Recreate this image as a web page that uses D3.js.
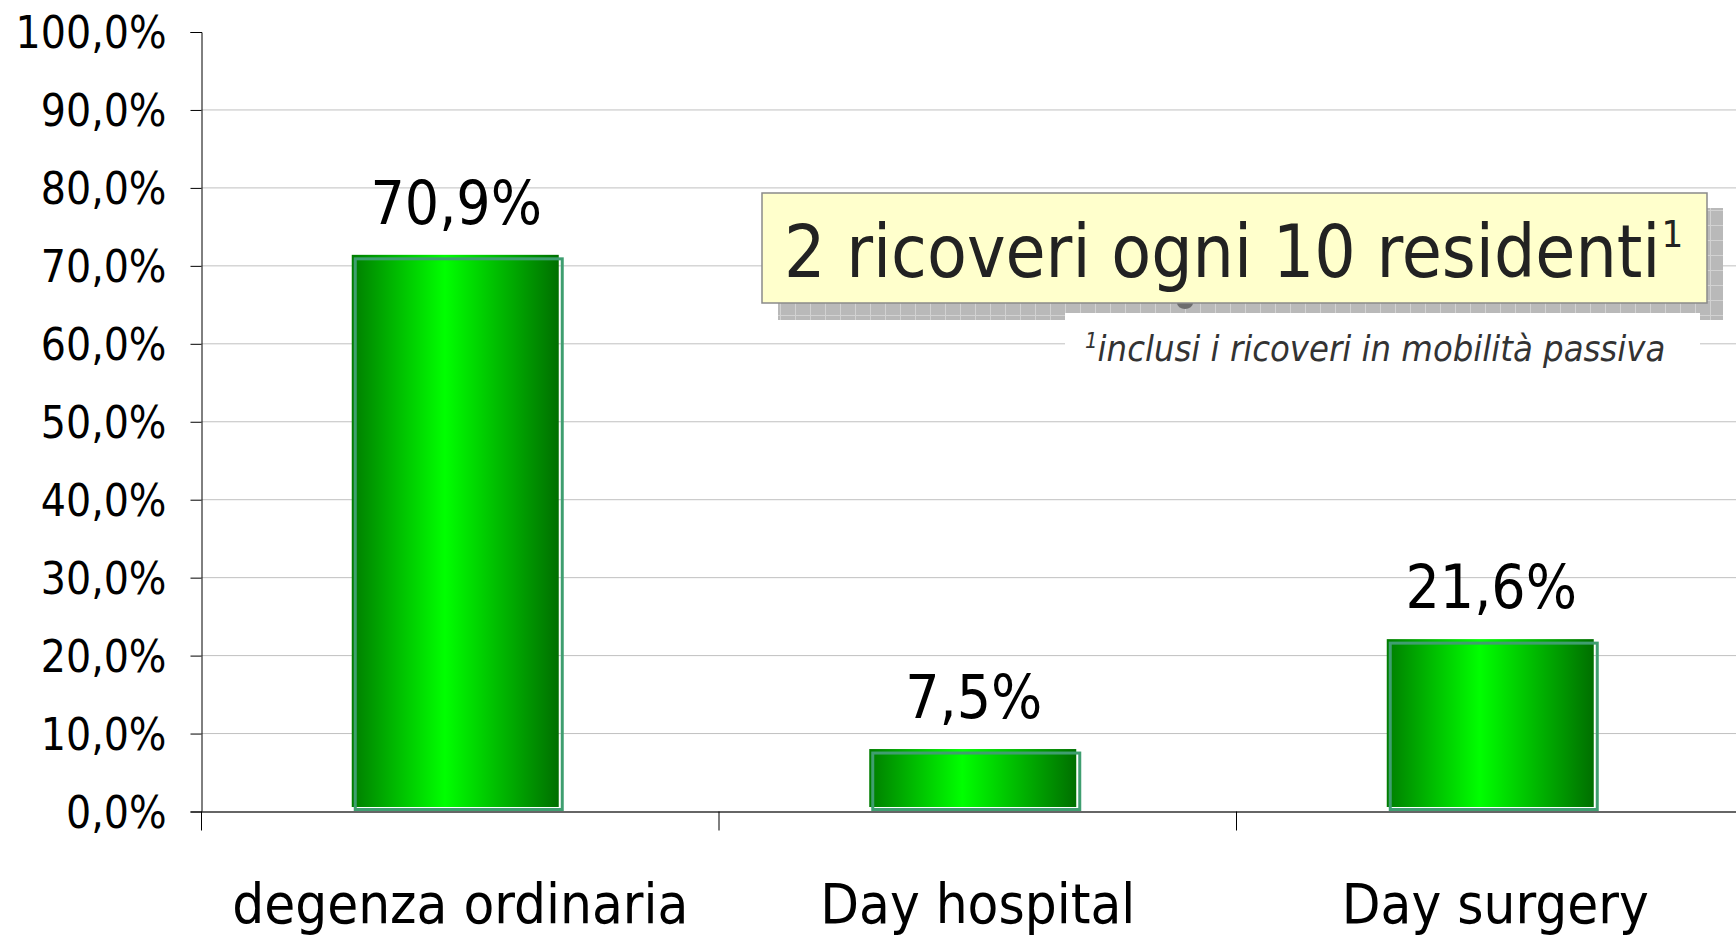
<!DOCTYPE html>
<html>
<head>
<meta charset="utf-8">
<script src="https://cdn.jsdelivr.net/npm/d3@7"></script>
<style>
  body { margin: 0; background: #fff; }
  svg { display: block; font-family: "DejaVu Sans Condensed", "DejaVu Sans", sans-serif; }
</style>
</head>
<body>
<svg id="chart" width="1736" height="935"></svg>
<script>
const categories = ["degenza ordinaria", "Day hospital", "Day surgery"];
const values = [70.9, 7.5, 21.6];
const yTicks = [0, 10, 20, 30, 40, 50, 60, 70, 80, 90, 100];
const boxText = "2 ricoveri ogni 10 residenti";
const noteText = "inclusi i ricoveri in mobilità passiva";

const svg = d3.select("#chart");
const it = d3.formatLocale({ decimal: ",", thousands: ".", grouping: [3], currency: ["€", ""] });
const pct = (v) => it.format(".1f")(v) + "%";

const plotLeft = 201.5, plotBottom = 811.5, plotTop = 32;
const x = d3.scaleBand().domain(categories).range([plotLeft, 1754]); // right end runs off the page
const y = d3.scaleLinear().domain([0, 100]).range([plotBottom, plotTop]);

// gradient for bars
const defs = svg.append("defs");
const grad = defs.append("linearGradient").attr("id", "barGrad").attr("x1", "0%").attr("x2", "100%");
grad.append("stop").attr("offset", "0%").attr("stop-color", "#007d00");
grad.append("stop").attr("offset", "45%").attr("stop-color", "#00ff00");
grad.append("stop").attr("offset", "100%").attr("stop-color", "#006f00");

const pat = defs.append("pattern").attr("id", "shadowPat")
  .attr("width", 15).attr("height", 15).attr("patternUnits", "userSpaceOnUse");
pat.append("rect").attr("width", 15).attr("height", 15).attr("fill", "#b9b9b9");
pat.append("path").attr("d", "M0,0.5H15M0.5,0V15").attr("stroke", "#d2d2d2").attr("stroke-width", 1);

// gridlines
svg.append("g")
  .selectAll("line")
  .data(yTicks.filter(d => d > 0 && d < 100))
  .join("line")
  .attr("x1", plotLeft).attr("x2", 1736)
  .attr("y1", d => y(d)).attr("y2", d => y(d))
  .attr("stroke", "#c0c0c0").attr("stroke-width", 1);

// y axis
const yAxis = svg.append("g")
  .attr("transform", `translate(${plotLeft},0)`)
  .call(d3.axisLeft(y).tickValues(yTicks).tickFormat(pct).tickSize(11).tickPadding(24));
yAxis.select(".domain").attr("stroke", "#000");
yAxis.selectAll(".tick line").attr("stroke", "#000");
yAxis.selectAll("text")
  .attr("font-family", "DejaVu Sans Condensed")
  .attr("font-size", 44)
  .attr("fill", "#000")
  .attr("dy", "0.36em");

// x axis
const xAxis = svg.append("g")
  .attr("transform", `translate(0,${plotBottom})`)
  .call(d3.axisBottom(x).tickSize(0).tickPadding(100));
xAxis.select(".domain").attr("stroke", "#333").attr("stroke-width", 1.5);
xAxis.selectAll("text")
  .attr("font-family", "DejaVu Sans Condensed")
  .attr("font-size", 56)
  .attr("fill", "#000")
  .attr("dy", "0.2em");
// category separators
svg.append("g")
  .selectAll("line")
  .data(categories)
  .join("line")
  .attr("x1", d => x(d)).attr("x2", d => x(d))
  .attr("y1", plotBottom).attr("y2", plotBottom + 19)
  .attr("stroke", "#000");

// bars
const barW = x.bandwidth() * 0.40;
const bars = svg.append("g").selectAll("g").data(values).join("g");
bars.append("rect")
  .attr("x", (d, i) => x(categories[i]) + x.bandwidth() / 2 - barW / 2 - 5)
  .attr("y", d => y(d) - 4)
  .attr("width", barW)
  .attr("height", d => plotBottom - 4.5 - (y(d) - 4))
  .attr("fill", "url(#barGrad)");
bars.append("rect")
  .attr("x", (d, i) => x(categories[i]) + x.bandwidth() / 2 - barW / 2 - 1.5)
  .attr("y", d => y(d))
  .attr("width", barW)
  .attr("height", d => plotBottom - 2 - y(d))
  .attr("fill", "none")
  .attr("stroke", "#3f9e70")
  .attr("stroke-width", 3);
bars.append("text")
  .attr("x", (d, i) => x(categories[i]) + x.bandwidth() / 2 - 4)
  .attr("y", d => y(d) - 35)
  .attr("text-anchor", "middle")
  .attr("font-size", 60)
  .attr("fill", "#000")
  .text(pct);

// annotation box
svg.append("rect")
  .attr("x", 778).attr("y", 208).attr("width", 945).attr("height", 112)
  .attr("fill", "url(#shadowPat)");
svg.append("ellipse")
  .attr("cx", 1185).attr("cy", 303).attr("rx", 8).attr("ry", 6)
  .attr("fill", "#6e6e6e");
svg.append("rect")
  .attr("x", 762).attr("y", 193).attr("width", 945).attr("height", 110)
  .attr("fill", "#ffffcc").attr("stroke", "#8a8a8a").attr("stroke-width", 1.5);
const bt = svg.append("text")
  .attr("x", 784).attr("y", 277)
  .attr("font-size", 72.5)
  .attr("fill", "#222");
bt.append("tspan").text(boxText);
bt.append("tspan").attr("font-size", 38).attr("dy", -30).attr("dx", 1).text("1");

// footnote
svg.append("rect")
  .attr("x", 1065).attr("y", 313).attr("width", 635).attr("height", 62)
  .attr("fill", "#fff");
const nt = svg.append("text")
  .attr("x", 1085).attr("y", 361)
  .attr("font-size", 36)
  .attr("font-style", "italic")
  .attr("fill", "#333");
nt.append("tspan").attr("font-size", 22).attr("dy", -13).text("1");
nt.append("tspan").attr("dy", 13).text(noteText);
</script>
</body>
</html>
